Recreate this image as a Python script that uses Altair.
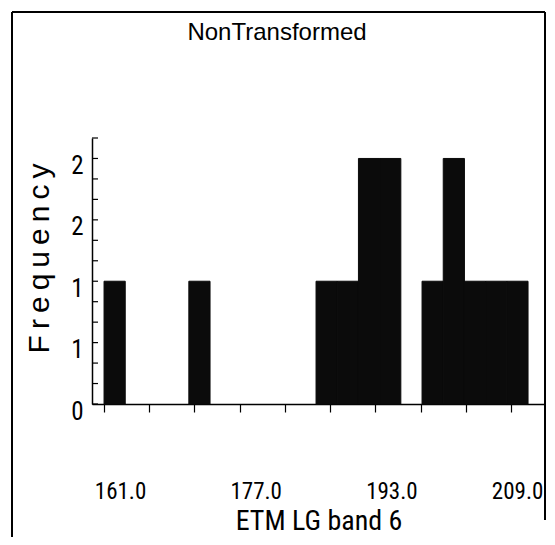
import altair as alt
import pandas as pd

# Histogram bins
bin_start = [161.0, 171.0, 186.0, 188.5, 191.0, 193.5, 198.5, 201.0, 203.5, 206.0, 208.5]
bin_end = [163.5, 173.5, 188.5, 191.0, 193.5, 196.0, 201.0, 203.5, 206.0, 208.5, 211.0]
counts = [1, 1, 1, 1, 2, 2, 1, 2, 1, 1, 1]

x_ticks = [161.0, 166.333, 171.667, 177.0, 182.333, 187.667, 193.0, 198.333, 203.667, 209.0]
x_labels = [161, 177, 193, 209]
y_labels = [0, 0.5, 1, 1.5, 2]
y_minor = [0, 0.1667, 0.3333, 0.5, 0.6667, 0.8333, 1.0, 1.1667, 1.3333, 1.5,
           1.6667, 1.8333, 2.0, 2.1667]

title_text = "NonTransformed"
x_title = "ETM LG band 6"
y_title = "\u2009".join("Frequency")  # letter-spaced as in the reference

NARROW = "Roboto Condensed, Liberation Sans, sans-serif"
SANS = "Liberation Sans, sans-serif"

bars_df = pd.DataFrame({"start": bin_start, "end": bin_end, "count": counts})
ticks_df = pd.DataFrame({"t": y_minor})
title_df = pd.DataFrame({"title": [title_text]})

x_scale = alt.Scale(domain=[159.58, 213.0], nice=False, zero=False)
y_scale = alt.Scale(domain=[0, 2.1667], nice=False)

label_list = "[" + ",".join(str(v) for v in x_labels) + "]"
label_expr = f"indexof({label_list}, datum.value) >= 0 ? format(datum.value, '.1f') : ''"

BAR_COLOR = "#0b0b0b"

bars = alt.Chart(bars_df).mark_bar(color=BAR_COLOR, stroke=BAR_COLOR, strokeWidth=1).encode(
    x=alt.X(
        "start:Q",
        scale=x_scale,
        title=x_title,
        axis=alt.Axis(
            values=x_ticks,
            labelExpr=label_expr,
            grid=False,
            domainColor="black",
            domainWidth=1.5,
            tickColor="black",
            tickSize=8,
            tickWidth=1.2,
            labelFont=NARROW,
            labelFontSize=23,
            labelColor="black",
            labelPadding=68,
            labelOffset={"condition": {"test": "datum.value > 205", "value": 6}, "value": 16},
            labelFlush=False,
            labelOverlap=False,
            titleFont=NARROW,
            titleFontSize=28,
            titleFontWeight="normal",
            titleColor="black",
            titleY=117,
            titleBaseline="middle",
        ),
    ),
    x2="end:Q",
    y=alt.Y(
        "count:Q",
        scale=y_scale,
        title=y_title,
        axis=alt.Axis(
            values=y_labels,
            format=".0f",
            grid=False,
            ticks=False,
            tickSize=0,
            domainColor="black",
            domainWidth=1.5,
            labelFont=NARROW,
            labelFontSize=25,
            labelColor="black",
            labelPadding=9,
            labelOffset=7,
            labelOverlap=False,
            titleFont=SANS,
            titleFontSize=30,
            titleFontWeight="normal",
            titleColor="black",
            titleAngle=270,
            titleX=-53,
            titleY=120,
            titleAlign="center",
            titleBaseline="middle",
        ),
    ),
    y2=alt.datum(0),
)

yticks = alt.Chart(ticks_df).mark_rule(color="black", strokeWidth=1.2).encode(
    y=alt.Y("t:Q", scale=y_scale),
    x=alt.value(0),
    x2=alt.value(6),
)

# chart title, placed above the plot like the reference
title_mark = alt.Chart(title_df).mark_text(
    font=SANS, fontSize=24, color="black", align="center", baseline="middle"
).encode(text="title:N", x=alt.value(185), y=alt.value(-105))

# frame lines around the figure (decoration)
frame_df = pd.DataFrame({"k": [0]})
left_line = alt.Chart(frame_df).mark_rule(color="black", strokeWidth=2).encode(
    x=alt.value(-80), y=alt.value(-126), y2=alt.value(400)
)
top_line = alt.Chart(frame_df).mark_rule(color="black", strokeWidth=2).encode(
    x=alt.value(-80), x2=alt.value(453), y=alt.value(-126)
)
right_line = alt.Chart(frame_df).mark_rule(color="black", strokeWidth=2).encode(
    x=alt.value(453), y=alt.value(-126), y2=alt.value(382)
)

chart = alt.layer(bars, yticks, title_mark, left_line, top_line, right_line).properties(
    width=453,
    height=266,
    autosize=alt.AutoSizeParams(type="none"),
    padding={"left": 84, "top": 130, "right": 2, "bottom": 133},
    background="white",
).configure_view(stroke="transparent", strokeWidth=0)

chart.save("out.html", embed_options={"renderer": "svg", "actions": False})
